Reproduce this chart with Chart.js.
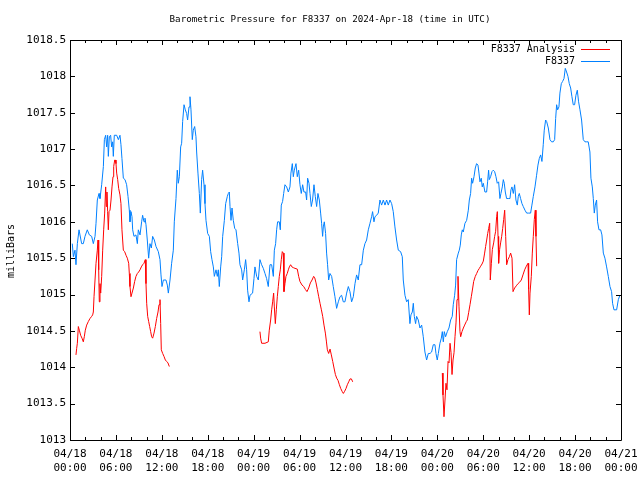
<!DOCTYPE html>
<html>
<head>
<meta charset="utf-8">
<script src="https://cdn.jsdelivr.net/npm/chart.js@4/dist/chart.umd.min.js"></script>
<style>
  html, body { margin: 0; padding: 0; background: #fff; }
  #chart { display: block; }
</style>
</head>
<body>
<canvas id="chart" width="640" height="480"></canvas>
<script>
/* ---- data (hours since 04/18 00:00 UTC, pressure in mbar) ---- */
const stationHours = [
  0.30, 0.44, 0.65, 0.78, 0.96, 1.18, 1.52, 1.74, 1.96, 2.26, 2.53, 2.83, 3.05, 3.27, 3.40, 3.57, 3.79, 3.92,
  4.14, 4.36, 4.49, 4.66, 4.79, 4.92, 5.01, 5.14, 5.31, 5.44, 5.57, 5.66, 5.79, 6.10, 6.32, 6.53, 6.66, 6.79,
  6.97, 7.19, 7.40, 7.58, 7.75, 7.84, 7.97, 8.10, 8.19, 8.36, 8.62, 8.80, 8.93, 9.15, 9.36, 9.49, 9.67, 9.80,
  9.93, 10.10, 10.28, 10.45, 10.63, 10.80, 11.02, 11.24, 11.54, 11.76, 11.89, 12.02, 12.20, 12.54, 12.72, 12.85,
  13.07, 13.28, 13.50, 13.63, 13.85, 14.02, 14.15, 14.29, 14.46, 14.59, 14.72, 14.90, 15.07, 15.24, 15.37, 15.55,
  15.68, 15.81, 15.98, 16.11, 16.29, 16.46, 16.55, 16.72, 16.90, 17.03, 17.20, 17.33, 17.51, 17.64, 17.77, 17.99,
  18.21, 18.38, 18.55, 18.73, 18.86, 19.08, 19.25, 19.38, 19.51, 19.69, 19.82, 19.95, 20.17, 20.34, 20.56, 20.69,
  20.82, 20.91, 21.04, 21.17, 21.34, 21.52, 21.69, 21.91, 22.08, 22.21, 22.43, 22.56, 22.78, 22.95, 23.08, 23.21,
  23.39, 23.52, 23.86, 24.04, 24.17, 24.39, 24.61, 24.82, 25.04, 25.26, 25.48, 25.69, 25.91, 26.13, 26.35, 26.57,
  26.70, 26.87, 27.00, 27.13, 27.35, 27.48, 27.61, 27.78, 27.92, 28.09, 28.31, 28.53, 28.74, 28.87, 29.05, 29.18,
  29.31, 29.53, 29.70, 29.88, 30.05, 30.22, 30.40, 30.57, 30.79, 30.92, 31.05, 31.23, 31.36, 31.53, 31.70, 31.88,
  32.05, 32.23, 32.40, 32.58, 32.75, 32.88, 33.01, 33.10, 33.23, 33.40, 33.53, 33.66, 33.80, 33.97, 34.19, 34.40,
  34.62, 34.84, 35.06, 35.28, 35.49, 35.71, 35.93, 36.15, 36.37, 36.58, 36.80, 37.02, 37.24, 37.45, 37.67, 37.89,
  38.11, 38.33, 38.54, 38.76, 38.98, 39.20, 39.41, 39.54, 39.72, 39.85, 40.07, 40.28, 40.50, 40.72, 40.94, 41.16,
  41.37, 41.59, 41.81, 42.03, 42.24, 42.46, 42.68, 42.90, 43.20, 43.42, 43.55, 43.77, 43.99, 44.20, 44.42, 44.55,
  44.73, 44.86, 44.99, 45.16, 45.29, 45.51, 45.73, 45.95, 46.16, 46.38, 46.60, 46.82, 47.04, 47.25, 47.47, 47.69,
  47.82, 47.99, 48.13, 48.34, 48.52, 48.65, 48.78, 48.91, 49.08, 49.30, 49.52, 49.74, 49.95, 50.08, 50.26, 50.39,
  50.52, 50.74, 50.87, 51.00, 51.13, 51.26, 51.39, 51.61, 51.83, 52.05, 52.18, 52.35, 52.48, 52.61, 52.79, 52.96,
  53.13, 53.31, 53.44, 53.57, 53.74, 53.87, 54.01, 54.22, 54.44, 54.57, 54.70, 54.79, 54.96, 55.14, 55.31, 55.49,
  55.66, 55.83, 56.01, 56.18, 56.31, 56.49, 56.62, 56.75, 56.88, 57.05, 57.27, 57.49, 57.62, 57.75, 57.93, 58.10,
  58.27, 58.45, 58.58, 58.71, 58.88, 59.06, 59.23, 59.45, 59.67, 59.93, 60.19, 60.36, 60.54, 60.76, 60.97, 61.15,
  61.32, 61.50, 61.67, 61.84, 61.97, 62.15, 62.28, 62.50, 62.72, 62.93, 63.15, 63.33, 63.46, 63.59, 63.72, 63.89,
  64.02, 64.20, 64.37, 64.55, 64.72, 64.89, 65.07, 65.24, 65.42, 65.59, 65.76, 65.94, 66.11, 66.29, 66.46, 66.64,
  66.85, 67.07, 67.29, 67.51, 67.72, 67.94, 68.07, 68.25, 68.38, 68.51, 68.64, 68.81, 68.94, 69.12, 69.34, 69.51,
  69.69, 69.90, 70.12, 70.34, 70.56, 70.77, 70.90, 71.08, 71.43, 71.65, 71.86
];
const stationPressure = [
  1015.70, 1015.52, 1015.61, 1015.41, 1015.70, 1015.89, 1015.70, 1015.70, 1015.80, 1015.89, 1015.82, 1015.80, 1015.70, 1015.80, 1015.98, 1016.30, 1016.39, 1016.32,
  1016.51, 1016.76, 1017.13, 1017.19, 1017.03, 1017.19, 1016.90, 1017.17, 1017.19, 1017.03, 1017.10, 1016.90, 1017.19, 1017.19, 1017.13, 1017.19, 1017.06, 1016.87,
  1016.60, 1016.58, 1016.51, 1016.35, 1016.16, 1016.00, 1016.14, 1016.07, 1015.89, 1015.80, 1015.82, 1015.70, 1015.89, 1015.82, 1016.00, 1016.09, 1016.00, 1016.05,
  1015.96, 1015.75, 1015.50, 1015.70, 1015.64, 1015.80, 1015.75, 1015.66, 1015.59, 1015.48, 1015.27, 1015.11, 1015.20, 1015.20, 1015.13, 1015.02,
  1015.20, 1015.43, 1015.61, 1016.00, 1016.32, 1016.71, 1016.53, 1016.62, 1017.03, 1017.08, 1017.38, 1017.61, 1017.54, 1017.49, 1017.40, 1017.58,
  1017.72, 1017.54, 1017.13, 1017.26, 1017.31, 1017.17, 1016.96, 1016.67, 1016.39, 1016.12, 1016.58, 1016.71, 1016.51, 1016.25, 1016.02, 1015.84,
  1015.80, 1015.59, 1015.48, 1015.38, 1015.25, 1015.34, 1015.25, 1015.34, 1015.11, 1015.38, 1015.52, 1015.80, 1016.02, 1016.25, 1016.35, 1016.39,
  1016.41, 1016.21, 1016.02, 1016.19, 1016.02, 1015.91, 1015.89, 1015.70, 1015.57, 1015.41, 1015.34, 1015.20, 1015.34, 1015.48, 1015.34, 1015.06,
  1014.90, 1014.99, 1015.02, 1015.22, 1015.38, 1015.25, 1015.20, 1015.48, 1015.41, 1015.36, 1015.29, 1015.22, 1015.11, 1015.41, 1015.41, 1015.25,
  1015.61, 1015.70, 1015.89, 1016.00, 1016.00, 1015.89, 1016.23, 1016.28, 1016.39, 1016.51, 1016.48, 1016.41, 1016.48, 1016.67, 1016.80, 1016.62,
  1016.71, 1016.80, 1016.62, 1016.71, 1016.51, 1016.39, 1016.51, 1016.41, 1016.41, 1016.30, 1016.60, 1016.53, 1016.39, 1016.21, 1016.30, 1016.51,
  1016.35, 1016.21, 1016.39, 1016.30, 1016.12, 1015.98, 1015.80, 1015.93, 1016.00, 1015.84, 1015.57, 1015.41, 1015.20, 1015.29, 1015.25, 1015.11,
  1014.97, 1014.81, 1014.90, 1014.97, 1014.99, 1014.90, 1014.90, 1015.02, 1015.11, 1015.04, 1014.90, 1014.97, 1015.15, 1015.27, 1015.20, 1015.41,
  1015.41, 1015.61, 1015.70, 1015.75, 1015.89, 1015.98, 1016.07, 1016.14, 1016.00, 1016.07, 1016.09, 1016.12, 1016.30, 1016.23, 1016.30, 1016.23,
  1016.30, 1016.23, 1016.30, 1016.25, 1016.14, 1015.93, 1015.75, 1015.61, 1015.59, 1015.52, 1015.20, 1014.99, 1014.90, 1014.93, 1014.60, 1014.72,
  1014.76, 1014.88, 1014.70, 1014.60, 1014.70, 1014.65, 1014.54, 1014.58, 1014.42, 1014.21, 1014.10, 1014.19, 1014.19, 1014.21, 1014.31, 1014.31,
  1014.19, 1014.10, 1014.19, 1014.33, 1014.40, 1014.49, 1014.35, 1014.49, 1014.42, 1014.49, 1014.54, 1014.65, 1014.70, 1014.86, 1014.99, 1015.13,
  1015.48, 1015.57, 1015.61, 1015.68, 1015.82, 1015.89, 1015.86, 1015.98, 1016.02, 1016.16, 1016.30, 1016.39, 1016.60, 1016.53, 1016.62, 1016.74,
  1016.80, 1016.78, 1016.67, 1016.55, 1016.60, 1016.48, 1016.53, 1016.41, 1016.41, 1016.55, 1016.71, 1016.58, 1016.62, 1016.69, 1016.71, 1016.69,
  1016.62, 1016.53, 1016.55, 1016.32, 1016.39, 1016.48, 1016.58, 1016.53, 1016.41, 1016.32, 1016.32, 1016.32, 1016.44, 1016.48, 1016.39, 1016.51,
  1016.30, 1016.23, 1016.35, 1016.39, 1016.32, 1016.25, 1016.21, 1016.16, 1016.12, 1016.12, 1016.12, 1016.23, 1016.35, 1016.48, 1016.64, 1016.78,
  1016.87, 1016.92, 1016.83, 1017.06, 1017.26, 1017.40, 1017.38, 1017.29, 1017.13, 1017.10, 1017.10, 1017.13, 1017.42, 1017.61, 1017.54, 1017.58,
  1017.77, 1017.90, 1017.93, 1017.97, 1018.11, 1018.06, 1018.00, 1017.90, 1017.84, 1017.72, 1017.61, 1017.61, 1017.74, 1017.81, 1017.65, 1017.54,
  1017.40, 1017.13, 1017.10, 1017.10, 1017.10, 1016.96, 1016.60, 1016.48, 1016.32, 1016.12, 1016.23, 1016.30, 1016.00, 1015.89, 1015.89, 1015.82,
  1015.57, 1015.50, 1015.38, 1015.25, 1015.11, 1015.04, 1014.88, 1014.79, 1014.79, 1014.93, 1014.99
];

// analysis series has gaps: a null value breaks the line
const analysisHours = [
  0.78, 0.87, 0.96, 1.09, 1.22, 1.39, 1.57, 1.74, 1.87, 2.00, 2.18, 2.40, 2.61, 2.83, 2.96, 3.05, 3.14, 3.27,
  3.40, 3.57, 3.66, 3.75, 3.83, 3.92, 4.01, 4.14, 4.27, 4.40, 4.53, 4.66, 4.75, 4.83, 4.92, 5.01, 5.10, 5.23,
  5.36, 5.49, 5.62, 5.71, 5.84, 5.92, 6.01, 6.10, 6.23, 6.36, 6.53, 6.66, 6.79, 6.97, 7.14, 7.32, 7.49, 7.67,
  7.75, 7.84, 7.97, 8.10, 8.28, 8.45, 8.62, 8.80, 8.97, 9.15, 9.32, 9.49, 9.67, 9.84, 9.93, 10.02, 10.15, 10.28,
  10.41, 10.54, 10.67, 10.80, 10.98, 11.15, 11.32, 11.50, 11.63, 11.76, 11.85, 11.93, 12.11, 12.28, 12.46, 12.63,
  12.80, 12.98,
  18.00,
  24.82, 24.91, 25.04, 25.48, 25.91, 26.04, 26.22, 26.35, 26.48, 26.61, 26.70, 26.83, 26.96, 27.09, 27.22, 27.35,
  27.48, 27.61, 27.74, 27.87, 27.96, 28.09, 28.22, 28.39, 28.53, 28.66, 28.83, 29.00, 29.18, 29.40, 29.70, 29.88,
  30.05, 30.32, 30.54, 30.76, 30.97, 31.19, 31.41, 31.63, 31.84, 31.98, 32.15, 32.32, 32.50, 32.67, 32.85, 33.02,
  33.19, 33.37, 33.50, 33.63, 33.80, 33.98, 34.15, 34.33, 34.50, 34.68, 34.85, 35.02, 35.20, 35.37, 35.55, 35.72,
  35.89, 36.07, 36.24, 36.42, 36.59, 36.77, 36.94,
  42.00,
  48.65, 48.74, 48.87, 49.00, 49.13, 49.26, 49.40, 49.53, 49.66, 49.79, 49.92, 50.05, 50.18, 50.31, 50.44, 50.57,
  50.70, 50.83, 50.96, 51.05, 51.22, 51.40, 51.57, 51.79, 51.92, 52.09, 52.27, 52.44, 52.62, 52.75, 52.96, 53.14,
  53.31, 53.49, 53.66, 53.84, 54.01, 54.18, 54.31, 54.45, 54.58, 54.71, 54.84, 54.92, 55.06, 55.19, 55.36, 55.49,
  55.62, 55.75, 55.84, 55.93, 56.01, 56.14, 56.27, 56.41, 56.54, 56.67, 56.80, 56.93, 57.06, 57.23, 57.41, 57.58,
  57.76, 57.89, 58.10, 58.32, 58.54, 58.76, 58.97, 59.19, 59.41, 59.63, 59.85, 59.93, 60.02, 60.11, 60.28, 60.41,
  60.54, 60.67, 60.80, 60.89, 60.98
];
const analysisPressure = [
  1014.17, 1014.26, 1014.33, 1014.56, 1014.51, 1014.44, 1014.40, 1014.35, 1014.42, 1014.51, 1014.58, 1014.63, 1014.67, 1014.70, 1014.72, 1014.76, 1014.97, 1015.20,
  1015.43, 1015.61, 1015.75, 1015.34, 1014.90, 1015.15, 1015.02, 1015.25, 1015.61, 1015.89, 1016.12, 1016.48, 1016.21, 1016.41, 1016.14, 1015.89, 1016.14, 1016.16,
  1016.30, 1016.48, 1016.62, 1016.76, 1016.85, 1016.85, 1016.80, 1016.67, 1016.58, 1016.46, 1016.37, 1016.25, 1015.89, 1015.61, 1015.59, 1015.54, 1015.50, 1015.43,
  1015.29, 1015.11, 1014.97, 1015.02, 1015.09, 1015.18, 1015.25, 1015.29, 1015.31, 1015.34, 1015.38, 1015.41, 1015.43, 1015.48, 1015.15, 1014.88, 1014.70, 1014.63,
  1014.56, 1014.49, 1014.42, 1014.40, 1014.47, 1014.56, 1014.67, 1014.76, 1014.86, 1014.93, 1014.60, 1014.24, 1014.19, 1014.15, 1014.10, 1014.08,
  1014.06, 1014.01,
  null,
  1014.49, 1014.40, 1014.33, 1014.33, 1014.35, 1014.51, 1014.65, 1014.79, 1014.90, 1015.02, 1014.83, 1014.60, 1014.79, 1014.97, 1015.11, 1015.25,
  1015.34, 1015.48, 1015.59, 1015.57, 1015.04, 1015.15, 1015.25, 1015.29, 1015.34, 1015.38, 1015.41, 1015.38, 1015.37, 1015.36, 1015.35, 1015.25,
  1015.18, 1015.13, 1015.11, 1015.07, 1015.04, 1015.09, 1015.16, 1015.20, 1015.25, 1015.23, 1015.16, 1015.07, 1014.97, 1014.88, 1014.79, 1014.70,
  1014.58, 1014.47, 1014.36, 1014.24, 1014.19, 1014.25, 1014.17, 1014.08, 1013.99, 1013.90, 1013.85, 1013.82, 1013.76, 1013.71, 1013.67, 1013.64,
  1013.67, 1013.71, 1013.76, 1013.80, 1013.84, 1013.84, 1013.80,
  null,
  1013.92, 1013.62, 1013.32, 1013.55, 1013.78, 1013.69, 1014.08, 1014.06, 1014.33, 1014.20, 1013.90, 1014.10, 1014.20, 1014.42, 1014.61, 1014.93,
  1015.25, 1014.84, 1014.49, 1014.42, 1014.49, 1014.54, 1014.58, 1014.63, 1014.65, 1014.75, 1014.86, 1014.97, 1015.09, 1015.18, 1015.25, 1015.29,
  1015.33, 1015.36, 1015.39, 1015.42, 1015.46, 1015.57, 1015.66, 1015.75, 1015.84, 1015.91, 1015.98, 1015.20, 1015.43, 1015.62, 1015.71, 1015.80,
  1015.87, 1016.07, 1016.14, 1015.80, 1015.43, 1015.62, 1015.71, 1015.80, 1015.91, 1016.03, 1016.16, 1015.80, 1015.41, 1015.48, 1015.52, 1015.57,
  1015.50, 1015.04, 1015.09, 1015.12, 1015.15, 1015.17, 1015.20, 1015.27, 1015.34, 1015.39, 1015.43, 1015.07, 1014.72, 1015.02, 1015.25, 1015.57,
  1015.80, 1016.03, 1016.16, 1015.80, 1015.39
];

const xTicks = [0, 6, 12, 18, 24, 30, 36, 42, 48, 54, 60, 66, 72];
const yTicks = [1013, 1013.5, 1014, 1014.5, 1015, 1015.5, 1016, 1016.5, 1017, 1017.5, 1018, 1018.5];

const titleText = "Barometric Pressure for F8337 on 2024-Apr-18 (time in UTC)";
const yLabel = "milliBars";
const seriesNames = ["F8337 Analysis", "F8337"];
const seriesColors = ["#ff0000", "#0080ff"];

const FONT = "'DejaVu Sans Mono', monospace";

function timeLabel(h) {
  const day = 18 + Math.floor(h / 24);
  const hh = h % 24;
  return ["04/" + day, String(hh).padStart(2, "0") + ":00"];
}

function toPoints(xs, ys) {
  return xs.map((x, i) => ({ x: x, y: ys[i] }));
}

/* ---- frame, inward ticks, title, y label, legend ---- */
const gnuplotDecor = {
  id: "gnuplotDecor",
  afterDraw(chart) {
    const ctx = chart.ctx;
    const a = chart.chartArea;
    const xs = chart.scales.x;
    const ys = chart.scales.y;
    ctx.save();
    ctx.strokeStyle = "#000";
    ctx.lineWidth = 1;
    ctx.beginPath();
    ctx.rect(Math.round(a.left) + 0.5, Math.round(a.top) + 0.5,
             Math.round(a.right - a.left), Math.round(a.bottom - a.top));
    // x ticks every 2 hours, longer every 6
    for (let h = 0; h <= 72; h += 2) {
      const px = Math.round(xs.getPixelForValue(h)) + 0.5;
      const len = h % 6 === 0 ? 5 : 3;
      ctx.moveTo(px, a.bottom); ctx.lineTo(px, a.bottom - len);
      ctx.moveTo(px, a.top); ctx.lineTo(px, a.top + len);
    }
    yTicks.forEach(v => {
      const py = Math.round(ys.getPixelForValue(v)) + 0.5;
      ctx.moveTo(a.left, py); ctx.lineTo(a.left + 5, py);
      ctx.moveTo(a.right, py); ctx.lineTo(a.right - 5, py);
    });
    ctx.stroke();

    ctx.fillStyle = "#000";
    ctx.textAlign = "center";
    ctx.textBaseline = "middle";
    ctx.font = "9.2px " + FONT;
    ctx.fillText(titleText, 330, 20);

    ctx.font = "10px " + FONT;
    ctx.save();
    ctx.translate(11, 251);
    ctx.rotate(-Math.PI / 2);
    ctx.fillText(yLabel, 0, 0);
    ctx.restore();

    // legend, top right inside the plot
    ctx.textAlign = "right";
    seriesNames.forEach((name, i) => {
      const y = 49 + i * 12;
      ctx.fillStyle = "#000";
      ctx.fillText(name, 575, y);
      ctx.strokeStyle = seriesColors[i];
      ctx.beginPath();
      ctx.moveTo(581, y + 0.5);
      ctx.lineTo(610, y + 0.5);
      ctx.stroke();
    });
    ctx.restore();
  }
};

new Chart(document.getElementById("chart"), {
  type: "line",
  data: {
    datasets: [
      {
        label: seriesNames[0],
        data: toPoints(analysisHours, analysisPressure),
        borderColor: seriesColors[0],
        borderWidth: 1,
        pointRadius: 0,
        tension: 0,
        spanGaps: false
      },
      {
        label: seriesNames[1],
        data: toPoints(stationHours, stationPressure),
        borderColor: seriesColors[1],
        borderWidth: 1,
        pointRadius: 0,
        tension: 0
      }
    ]
  },
  options: {
    responsive: false,
    devicePixelRatio: 1,
    animation: false,
    layout: { padding: { top: 40, right: 19, left: 0, bottom: 0 } },
    plugins: { legend: { display: false }, title: { display: false }, tooltip: { enabled: false } },
    scales: {
      x: {
        type: "linear",
        min: 0,
        max: 72,
        afterFit: (s) => { s.height = 40; s.paddingLeft = 0; s.paddingRight = 0; },
        afterBuildTicks: (s) => { s.ticks = xTicks.map(v => ({ value: v })); },
        grid: { display: false, drawTicks: false },
        border: { display: false },
        ticks: {
          autoSkip: false,
          maxRotation: 0,
          padding: 7,
          color: "#000",
          font: { family: FONT, size: 11, lineHeight: "14px" },
          callback: (v) => timeLabel(v)
        }
      },
      y: {
        min: 1013,
        max: 1018.5,
        afterFit: (s) => { s.width = 70; s.paddingTop = 0; s.paddingBottom = 0; },
        afterBuildTicks: (s) => { s.ticks = yTicks.map(v => ({ value: v })); },
        grid: { display: false, drawTicks: false },
        border: { display: false },
        ticks: {
          padding: 4,
          color: "#000",
          font: { family: FONT, size: 11 },
          callback: (v) => String(v)
        }
      }
    }
  },
  plugins: [gnuplotDecor]
});
</script>
</body>
</html>
